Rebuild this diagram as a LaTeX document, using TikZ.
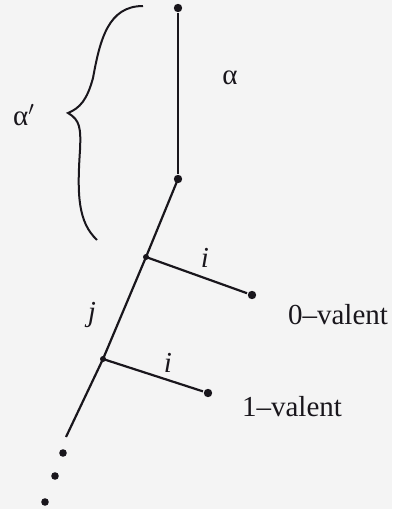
\documentclass[tikz,border=0pt]{standalone}
\usepackage{fontspec}
\setmainfont{Liberation Serif}
\usetikzlibrary{positioning}
\definecolor{bgcol}{RGB}{244,244,244}
\definecolor{inkcol}{RGB}{25,22,28}
\tikzset{
  dot/.style={circle, fill=inkcol, inner sep=0pt, minimum size=4.2pt},
  smalldot/.style={circle, fill=inkcol, inner sep=0pt, minimum size=3.8pt},
  lab/.style={inner sep=0pt, font=\fontsize{14.5}{16}\selectfont, text=inkcol},
}
\begin{document}
\begin{tikzpicture}[x=0.5pt, y=-0.5pt, line width=1.1pt, draw=inkcol]
    \fill[bgcol] (0,0) rectangle (392,509);
    \useasboundingbox (0,0) rectangle (392,509);
    % main path
    \node[dot] (A1) at (178,8) {};
    \node[dot] (A2) at (178,179) {};
    \coordinate (B1) at (146,257);
    \coordinate (B2) at (103,359);
    \coordinate (E) at (66,437);
    \node[dot] (L1) at (252,295) {};
    \node[dot] (L2) at (208,393) {};
    \node[smalldot] (D1) at (63,453) {};
    \node[smalldot] (D2) at (55,476) {};
    \node[smalldot] (D3) at (45,502) {};
    \fill[inkcol] (B1) circle (1.5pt);
    \fill[inkcol] (B2) circle (1.5pt);

    \draw (A1) -- (A2);
    \draw (A2.center) -- (B1) -- (B2) -- (E);
    \draw (B1) -- (L1);
    \draw (B2) -- (L2);

    % brace
    \draw[line width=1pt] (143,6) .. controls (108,6) and (100,40) .. (93,78)
        .. controls (87,100) and (80,108) .. (68,113)
        .. controls (80,120) and (81,128) .. (80,150)
        .. controls (77,195) and (78,222) .. (97,240);

    % labels
    \node[lab] (alpha) at (230,78) {α};
    \node[lab] (alphap) at (24,115) {α$'$};
    \node[lab] (i1) at (205,258) {\itshape i};
    \node[lab] (i2) at (168,363) {\itshape i};
    \node[lab] (j) at (92,315) {\itshape j};
    \node[lab] (zero) at (338,315) {0–valent};
    \node[lab] (one) at (292,407) {1–valent};
\end{tikzpicture}
\end{document}
